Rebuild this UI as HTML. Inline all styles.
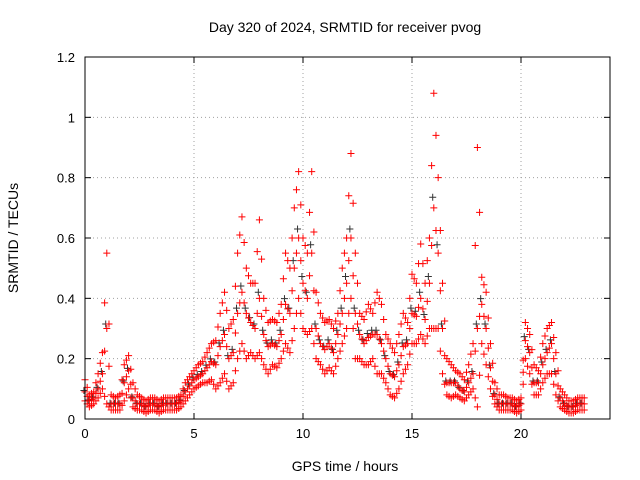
<!DOCTYPE html>
<html><head><meta charset="utf-8"><style>
body{margin:0;background:#fff;}
svg{display:block;font-family:"Liberation Sans",sans-serif;}
</style></head><body>
<svg id="chart" width="640" height="480">
<rect width="640" height="480" fill="#fff"/>
<text x="345" y="32" font-size="14" text-anchor="middle">Day 320 of 2024, SRMTID for receiver pvog</text>
<text x="345" y="471" font-size="14" text-anchor="middle">GPS time / hours</text>
<text x="18" y="238" font-size="14" text-anchor="middle" transform="rotate(-90 18 238)">SRMTID / TECUs</text>
<g id="grid"></g><g id="marks"></g>
<rect x="85" y="57" width="525" height="362" fill="none" stroke="#000"/>
</svg>
<script>
const times=[];for(let i=0;i<=114;i++)times.push(+(i*0.2).toFixed(1));
const lowVals=[.06,.04,.05,.07,.10,.05,.03,.03,.03,.06,.10,.04,.03,.03,.02,.03,.03,.02,.03,.03,.03,.03,.04,.06,.08,.10,.11,.12,.12,.13,.10,.12,.15,.10,.12,.20,.25,.20,.22,.20,.22,.18,.15,.18,.17,.20,.25,.22,.30,.40,.30,.28,.30,.20,.18,.15,.17,.15,.20,.25,.30,.40,.20,.20,.18,.18,.20,.15,.15,.12,.08,.07,.10,.15,.18,.25,.25,.28,.25,.30,.30,.30,.15,.08,.07,.08,.07,.06,.08,.10,.04,.25,.18,.10,.05,.03,.03,.03,.03,.02,.03,.20,.15,.08,.08,.12,.15,.15,.08,.04,.03,.02,.02,.03,.03];
const midVals=[.09,.06,.07,.10,.15,.30,.05,.05,.05,.12,.16,.07,.05,.05,.04,.05,.05,.04,.05,.05,.05,.05,.06,.09,.11,.13,.14,.15,.17,.19,.18,.24,.28,.20,.22,.35,.42,.35,.32,.30,.40,.28,.24,.25,.24,.28,.38,.35,.50,.60,.45,.40,.55,.30,.25,.23,.25,.22,.28,.35,.45,.60,.35,.28,.25,.27,.28,.28,.25,.20,.15,.14,.18,.24,.25,.35,.34,.40,.33,.45,.70,.55,.30,.12,.12,.12,.10,.09,.12,.15,.30,.38,.30,.17,.08,.05,.05,.05,.05,.04,.05,.26,.22,.12,.12,.18,.22,.25,.15,.07,.05,.04,.04,.05,.05];
const highVals=[.13,.08,.09,.15,.22,.55,.08,.07,.08,.18,.21,.12,.08,.07,.06,.07,.07,.06,.07,.07,.07,.07,.08,.12,.14,.16,.18,.19,.22,.25,.26,.35,.42,.30,.33,.55,.67,.50,.45,.45,.66,.40,.32,.33,.32,.38,.55,.50,.70,.82,.60,.55,.82,.42,.35,.32,.33,.30,.35,.50,.60,.88,.55,.35,.33,.38,.35,.42,.38,.28,.25,.22,.28,.35,.32,.48,.45,.58,.45,.60,1.08,.80,.45,.20,.18,.16,.15,.13,.18,.25,.90,.47,.42,.25,.12,.08,.08,.07,.07,.06,.07,.32,.28,.18,.16,.25,.30,.32,.22,.10,.08,.06,.06,.07,.07];
const xTicks=[0,5,10,15,20];
const yTicks=[0,0.2,0.4,0.6,0.8,1,1.2];
const yTickLabels=["0","0.2","0.4","0.6","0.8","1","1.2"];
const X0=85,X1=610,Y0=419,Y1=57;
const xs=h=>X0+h*21.8;
const ys=v=>Y0-(v/1.2)*(Y0-Y1);
const NS="http://www.w3.org/2000/svg";
const grid=document.getElementById('grid'),marks=document.getElementById('marks');
function mk(tag,attrs,parent){const e=document.createElementNS(NS,tag);for(const k in attrs)e.setAttribute(k,attrs[k]);parent.appendChild(e);return e;}
xTicks.forEach(t=>{const x=xs(t);
 const g=mk('line',{x1:x,x2:x,y1:Y1,y2:Y0,stroke:'#a0a0a0','stroke-dasharray':'1,3'},grid);
 
 
 mk('line',{x1:x,x2:x,y1:Y0,y2:Y0-6,stroke:'#000'},grid);
 mk('line',{x1:x,x2:x,y1:Y1,y2:Y1+6,stroke:'#000'},grid);
 const l=mk('text',{x:x,y:Y0+19,'font-size':13,'text-anchor':'middle'},grid);l.textContent=t;
 
 
});
yTicks.forEach((t,i)=>{const y=ys(t);
 const g=mk('line',{x1:X0,x2:X1,y1:y,y2:y,stroke:'#a0a0a0','stroke-dasharray':'1,3'},grid);
 
 
 mk('line',{x1:X0,x2:X0+6,y1:y,y2:y,stroke:'#000'},grid);
 mk('line',{x1:X1,x2:X1-6,y1:y,y2:y,stroke:'#000'},grid);
 const l=mk('text',{x:X0-10,y:y+5,'font-size':13,'text-anchor':'end'},grid);l.textContent=yTickLabels[i];
 
 
});
function plus(x,y,c){const p=mk('path',{d:`M${x-3.5},${y}h7M${x},${y-3.5}v7`,stroke:c,'stroke-width':1,fill:'none'},marks);
 
 }
midVals.forEach((v,i)=>plus(xs(times[i]-0.05),ys(v*1.05),'#333'));
[lowVals,midVals,highVals].forEach(arr=>arr.forEach((v,i)=>{plus(xs(times[i]),ys(v),'#f00');plus(xs(times[i]+0.1),ys((v+(arr[i+1]!==undefined?arr[i+1]:v))/2),'#f00');}));
</script>
</body></html>
